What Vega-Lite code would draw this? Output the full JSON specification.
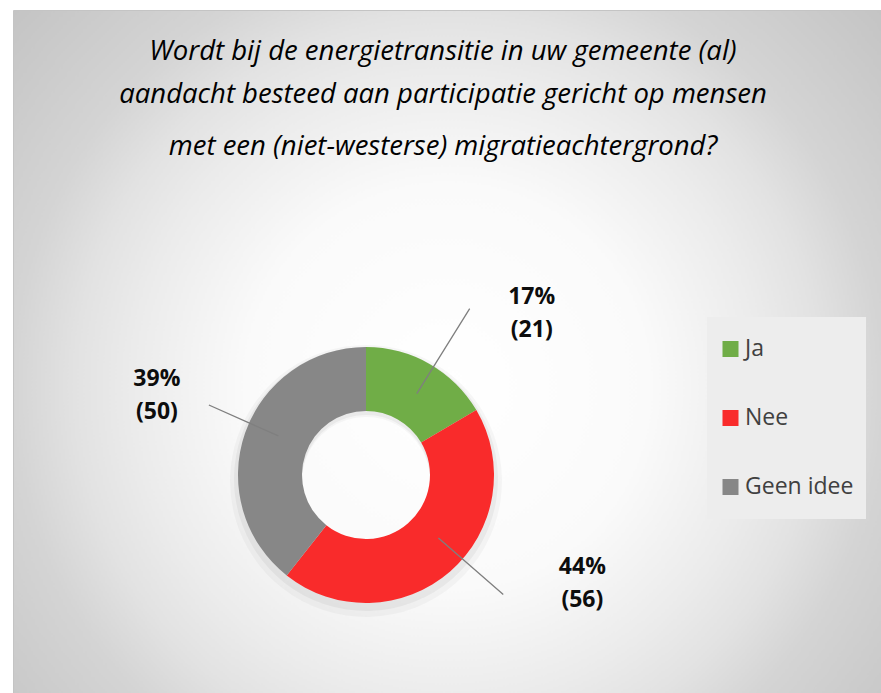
{
  "$schema": "https://vega.github.io/schema/vega-lite/v6.json",
  "width": 868,
  "height": 683,
  "autosize": {"type": "none"},
  "padding": {"left": 13, "top": 10, "right": 0, "bottom": 0},
  "background": "#ffffff",
  "title": {
    "text": ["Wordt bij de energietransitie in uw gemeente (al)", "aandacht besteed aan participatie gericht op mensen"],
    "subtitle": "met een (niet-westerse) migratieachtergrond?",
    "font": "Open Sans",
    "fontStyle": "italic",
    "fontWeight": "normal",
    "fontSize": 27.5,
    "color": "#000000",
    "lineHeight": 43,
    "subtitleFont": "Open Sans",
    "subtitleFontStyle": "italic",
    "subtitleFontWeight": "normal",
    "subtitleFontSize": 27.5,
    "subtitleColor": "#000000",
    "subtitlePadding": 24,
    "anchor": "middle",
    "frame": "group",
    "orient": "top",
    "offset": -150,
    "dx": -4
  },
  "config": {
    "view": {
      "stroke": "#c4c4c4",
      "fill": {
        "gradient": "radial",
        "x1": 0.5, "y1": 0.54, "r1": 0,
        "x2": 0.5, "y2": 0.54, "r2": 0.66,
        "stops": [
          {"offset": 0, "color": "#ffffff"},
          {"offset": 0.35, "color": "#fafafa"},
          {"offset": 0.55, "color": "#ebebeb"},
          {"offset": 0.65, "color": "#e2e2e2"},
          {"offset": 0.76, "color": "#d4d4d4"},
          {"offset": 1, "color": "#c4c4c4"}
        ]
      }
    }
  },
  "data": {
    "values": [
      {"category": "Ja", "count": 21, "ord": 1, "label": ["17%", "(21)"]},
      {"category": "Nee", "count": 56, "ord": 2, "label": ["44%", "(56)"]},
      {"category": "Geen idee", "count": 50, "ord": 3, "label": ["39%", "(50)"]}
    ]
  },
  "encoding": {
    "theta": {"field": "count", "type": "quantitative", "stack": true},
    "order": {"field": "ord", "type": "quantitative"},
    "x": {"value": 353},
    "y": {"value": 465}
  },
  "layer": [
    {
      "mark": {"type": "arc", "innerRadius": 64, "outerRadius": 136, "opacity": 0.03, "color": "#000000"},
      "encoding": {"y": {"value": 471}}
    },
    {
      "mark": {"type": "arc", "innerRadius": 64, "outerRadius": 132, "opacity": 0.045, "color": "#000000"},
      "encoding": {"y": {"value": 469}}
    },
    {
      "mark": {"type": "arc", "innerRadius": 64, "outerRadius": 128},
      "encoding": {
        "color": {
          "field": "category",
          "type": "nominal",
          "scale": {"domain": ["Ja", "Nee", "Geen idee"], "range": ["#70AD47", "#F92B2B", "#878787"]},
          "legend": {
            "orient": "none",
            "legendX": 694,
            "legendY": 307,
            "title": null,
            "symbolType": "square",
            "symbolSize": 256,
            "symbolStrokeWidth": 0,
            "symbolOpacity": 1,
            "labelFont": "Open Sans",
            "labelFontSize": 23,
            "labelColor": "#404040",
            "labelOffset": 3,
            "clipHeight": 40,
            "rowPadding": 29,
            "padding": 12,
            "fillColor": "#ededed"
          }
        }
      }
    },
    {
      "mark": {
        "type": "arc",
        "innerRadius": 96,
        "outerRadius": {"expr": "datum.category === 'Ja' ? 196 : datum.category === 'Nee' ? 182 : 172"},
        "padAngle": 3.2,
        "thetaOffset": {"expr": "datum.category === 'Ja' ? 0.038 : datum.category === 'Nee' ? -0.137 : 0.085"},
        "theta2Offset": {"expr": "datum.category === 'Ja' ? 0.038 : datum.category === 'Nee' ? -0.137 : 0.085"},
        "filled": false,
        "stroke": "#7f7f7f",
        "strokeWidth": 1.3
      }
    },
    {
      "mark": {
        "type": "text",
        "font": "Open Sans",
        "fontWeight": "bold",
        "fontSize": 23,
        "lineHeight": 33,
        "baseline": "middle",
        "align": "center",
        "color": "#0d0d0d",
        "radius": 215,
        "dx": {"expr": "datum.category === 'Ja' ? 59 : datum.category === 'Nee' ? 75 : -6"},
        "dy": {"expr": "datum.category === 'Ja' ? 9 : datum.category === 'Nee' ? -70 : -26"}
      },
      "encoding": {
        "text": {"field": "label", "type": "nominal"}
      }
    }
  ]
}
